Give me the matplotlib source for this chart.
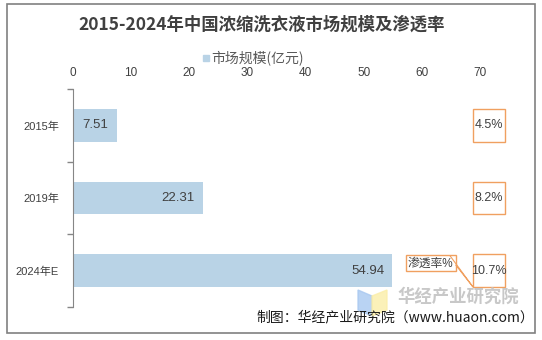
import numpy as np
import matplotlib.pyplot as plt
from matplotlib.patches import Rectangle, Polygon

plt.rcParams['font.family'] = ['Liberation Sans', 'Noto Sans CJK SC']

# 数据
years = ['2015年', '2019年', '2024年E']
market = [7.51, 22.31, 54.94]          # 市场规模（亿元）
penetration = ['4.5%', '8.2%', '10.7%']  # 渗透率

bar_color = '#b9d3e6'
box_color = '#f0a060'
text_color = '#404040'

fig = plt.figure(figsize=(5.42, 3.40), dpi=100)
ax = fig.add_axes([73 / 542, 1 - 307 / 340, 407 / 542, 218 / 340])

y = np.arange(len(years))
ax.barh(y, market, height=0.45, color=bar_color)

# 柱内数值
for yi, v in zip(y, market):
    ax.annotate(f'{v:.2f}', (v, yi), xytext=(-6, 0), textcoords='offset points',
                ha='right', va='center', fontsize=9.5, color=text_color)

# 渗透率标签框
for yi, p in zip(y, penetration):
    ax.add_patch(Rectangle((68.8, yi - 0.225), 5.5, 0.45, facecolor='white',
                           edgecolor=box_color, lw=1, clip_on=False, zorder=3))
    ax.text(71.55, yi, p, ha='center', va='center', fontsize=9,
            color=text_color, zorder=4)

# 渗透率说明框
ax.add_patch(Rectangle((57.2, 1.79), 8.6, 0.22, facecolor='white',
                       edgecolor=box_color, lw=1, clip_on=False, zorder=3))
ax.text(61.5, 1.90, '渗透率%', ha='center', va='center', fontsize=8.5,
        color=text_color, zorder=4)
ax.add_patch(Polygon([(64.8, 1.79), (68.8, 2.225), (65.8, 1.92)], closed=False,
                     fill=False, edgecolor=box_color, lw=0.8, clip_on=False, zorder=3))

ax.set_xlim(0, 70)
ax.set_ylim(2.5, -0.5)
ax.set_xticks(range(0, 71, 10))
ax.xaxis.tick_top()
ax.tick_params(axis='x', length=0, pad=7, labelsize=8.5, labelcolor=text_color)
ax.set_yticks(y)
ax.set_yticklabels(years)
ax.set_yticks([-0.5, 0.5, 1.5, 2.5], minor=True)
ax.tick_params(axis='y', which='major', length=0, pad=10, labelsize=8, labelcolor=text_color)
ax.tick_params(axis='y', which='minor', length=4, color='#868686', width=1)
for s in ['top', 'right', 'bottom']:
    ax.spines[s].set_visible(False)
ax.spines['left'].set_color('#868686')

# 标题和图例
fig.text(262 / 542, 1 - 25 / 340, '2015-2024年中国浓缩洗衣液市场规模及渗透率',
         ha='center', va='center', fontsize=12.5, fontweight='bold', color='#404040',
         family=['Noto Sans CJK SC'])
fig.patches.append(Rectangle((203 / 542, 1 - 61 / 340), 6 / 542, 6 / 340,
                             transform=fig.transFigure, color=bar_color))
fig.text(211 / 542, 1 - 58 / 340, '市场规模(亿元)', ha='left', va='center',
         fontsize=10, color='#595959', family=['Noto Sans CJK SC'])

# 水印
fig.patches.append(Polygon([(358 / 542, 1 - 290 / 340), (372 / 542, 1 - 296 / 340),
                            (372 / 542, 1 - 316 / 340), (358 / 542, 1 - 310 / 340)],
                           transform=fig.transFigure, color='#a8c8f0', alpha=0.8))
fig.patches.append(Polygon([(372 / 542, 1 - 296 / 340), (387 / 542, 1 - 290 / 340),
                            (387 / 542, 1 - 310 / 340), (372 / 542, 1 - 316 / 340)],
                           transform=fig.transFigure, color='#fbeea8', alpha=0.8))
fig.text(397 / 542, 1 - 297 / 340, '华经产业研究院', ha='left', va='center',
         fontsize=12.5, fontweight='bold', color='#c8c8c8', family=['Noto Sans CJK SC'])

fig.text(256 / 542, 1 - 317 / 340, '制图：华经产业研究院（www.huaon.com）',
         ha='left', va='center', fontsize=10, color='#1a1a1a',
         family=['Noto Sans CJK SC', 'DejaVu Sans'])

# 外框
fig.patches.append(Rectangle((7 / 542, 1 - 333 / 340), 528 / 542, 329 / 340,
                             transform=fig.transFigure, fill=False,
                             edgecolor='#808080', lw=1.2))

fig.savefig('out.png', dpi=100)
